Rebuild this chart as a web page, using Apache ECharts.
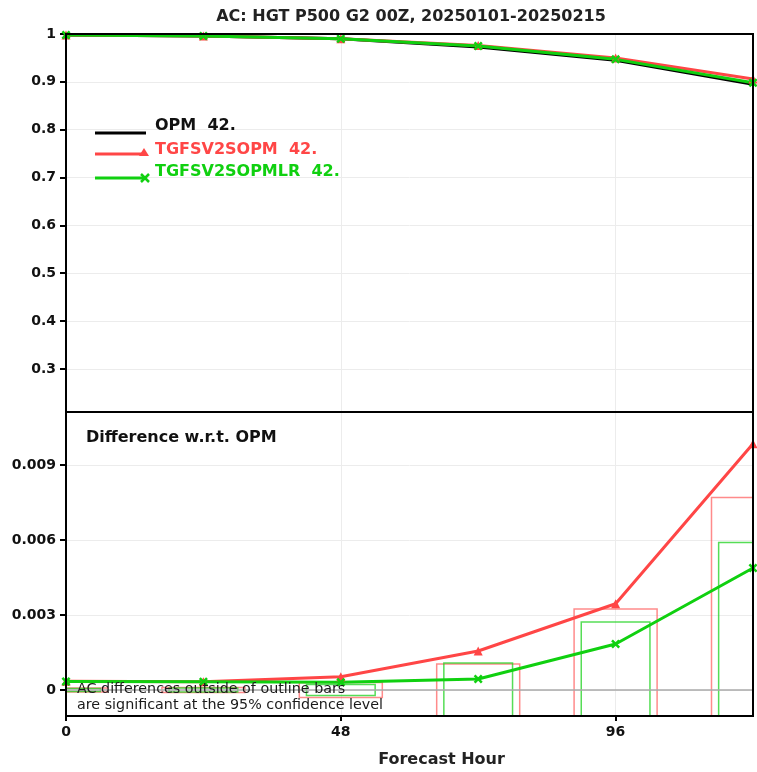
<!DOCTYPE html>
<html>
<head>
<meta charset="utf-8">
<script src="https://cdn.jsdelivr.net/npm/echarts@6/dist/echarts.min.js"></script>
<style>
  html, body { margin: 0; padding: 0; background: #fff; }
  #chart { width: 757px; height: 772px; }
</style>
</head>
<body>
<div id="chart"></div>
<script>
// forecast hours
const hours = [0, 24, 48, 72, 96, 120];

// anomaly correlation, top panel
const acOPM = [0.998, 0.996, 0.990, 0.973, 0.945, 0.895];
const acTGFS = [0.998, 0.996, 0.990, 0.976, 0.950, 0.906];
const acTGFSLR = [0.998, 0.996, 0.990, 0.975, 0.947, 0.898];

// difference w.r.t. OPM, bottom panel
const diffTGFS = [0.00035, 0.00033, 0.00053, 0.00156, 0.00345, 0.00985];
const diffTGFSLR = [0.00034, 0.00033, 0.00031, 0.00044, 0.00184, 0.00488];

// significance bar half heights (95% level)
const sigTGFS = [0.00008, 0.0001, 0.0003, 0.00104, 0.00324, 0.0077];
const sigTGFSLR = [0.00006, 0.00008, 0.00022, 0.00108, 0.00272, 0.0059];

const legendNames = ['OPM  42.', 'TGFSV2SOPM  42.', 'TGFSV2SOPMLR  42.'];

const FONT = 'DejaVu Sans';
const RED = '#ff4646';
const GREEN = '#10d010';
const CROSS = 'path://M0,2 L2,0 L5,3 L8,0 L10,2 L7,5 L10,8 L8,10 L5,7 L2,10 L0,8 L3,5 Z';

// panel boxes (pixels)
const PLOT_L = 66, PLOT_W = 687;
const TOP_Y = 34, TOP_H = 378;
const BOT_Y = 412, BOT_H = 304;

const chart = echarts.init(document.getElementById('chart'));

function pairs(ys) {
  return hours.map((h, i) => [h, ys[i]]);
}

function boxRenderer(halfHours, color) {
  return function (params, api) {
    const x = api.value(0);
    const h = api.value(1);
    const p1 = api.coord([x - halfHours, h]);
    const p2 = api.coord([x + halfHours, -h]);
    const cs = params.coordSys;
    const shape = echarts.graphic.clipRectByRect(
      { x: p1[0], y: p1[1], width: p2[0] - p1[0], height: p2[1] - p1[1] },
      { x: cs.x, y: cs.y, width: cs.width, height: cs.height }
    );
    if (!shape) return;
    return {
      type: 'rect',
      shape,
      style: { fill: 'none', stroke: color, lineWidth: 1.5 }
    };
  };
}

const splitStyle = { lineStyle: { color: '#ececec', width: 1 } };
const labelStyle = { fontFamily: FONT, fontWeight: 'bold', fontSize: 14, color: '#111' };

chart.setOption({
  animation: false,
  title: {
    text: 'AC: HGT P500 G2 00Z, 20250101-20250215',
    left: 406,
    top: 4,
    textAlign: 'center',
    textStyle: { fontFamily: FONT, fontWeight: 'bold', fontSize: 16, color: '#222' }
  },
  grid: [
    { left: PLOT_L, width: PLOT_W, top: TOP_Y, height: TOP_H },
    { left: PLOT_L, width: PLOT_W, top: BOT_Y, height: BOT_H }
  ],
  xAxis: [
    {
      type: 'value', gridIndex: 0, min: 0, max: 120, interval: 48,
      axisLine: { show: false }, axisTick: { show: false }, axisLabel: { show: false },
      splitLine: splitStyle
    },
    {
      type: 'value', gridIndex: 1, min: 0, max: 120, interval: 48,
      axisLine: { show: false, onZero: false },
      axisTick: { length: 5, lineStyle: { color: '#000', width: 2 } },
      axisLabel: Object.assign({ margin: 9, showMaxLabel: false }, labelStyle),
      splitLine: splitStyle,
      name: 'Forecast Hour',
      nameLocation: 'middle',
      nameGap: 36,
      nameTextStyle: { fontFamily: FONT, fontWeight: 'bold', fontSize: 16, color: '#222', padding: [0, 0, 0, 64] }
    }
  ],
  yAxis: [
    {
      type: 'value', gridIndex: 0, min: 0.21, max: 1,
      splitNumber: 8, minInterval: 0.1, maxInterval: 0.1,
      axisLine: { show: false },
      axisTick: { length: 6, lineStyle: { color: '#000', width: 2 } },
      axisLabel: Object.assign({ margin: 10, showMinLabel: false }, labelStyle),
      splitLine: splitStyle
    },
    {
      type: 'value', gridIndex: 1, min: -0.00104, max: 0.01112,
      splitNumber: 4, minInterval: 0.003, maxInterval: 0.003,
      axisLine: { show: false },
      axisTick: { length: 6, lineStyle: { color: '#000', width: 2 } },
      axisLabel: Object.assign({ margin: 10, showMinLabel: false, showMaxLabel: false }, labelStyle),
      splitLine: splitStyle
    }
  ],
  series: [
    {
      name: legendNames[0], type: 'line', xAxisIndex: 0, yAxisIndex: 0,
      data: pairs(acOPM), symbol: 'none',
      lineStyle: { color: '#000', width: 3 }
    },
    {
      name: legendNames[1], type: 'line', xAxisIndex: 0, yAxisIndex: 0,
      data: pairs(acTGFS), symbol: 'triangle', symbolSize: 9,
      itemStyle: { color: RED }, lineStyle: { color: RED, width: 3 }
    },
    {
      name: legendNames[2], type: 'line', xAxisIndex: 0, yAxisIndex: 0,
      data: pairs(acTGFSLR), symbol: CROSS, symbolSize: 9,
      itemStyle: { color: GREEN }, lineStyle: { color: GREEN, width: 3 }
    },
    {
      type: 'custom', xAxisIndex: 1, yAxisIndex: 1,
      data: pairs(sigTGFS), renderItem: boxRenderer(7.25, 'rgba(255,90,90,0.7)'),
      encode: { x: 0, y: 1 }, z: 1
    },
    {
      type: 'custom', xAxisIndex: 1, yAxisIndex: 1,
      data: pairs(sigTGFSLR), renderItem: boxRenderer(6, 'rgba(30,210,30,0.75)'),
      encode: { x: 0, y: 1 }, z: 1
    },
    {
      name: 'diff ' + legendNames[1], type: 'line', xAxisIndex: 1, yAxisIndex: 1,
      data: pairs(diffTGFS), symbol: 'triangle', symbolSize: 9,
      itemStyle: { color: RED }, lineStyle: { color: RED, width: 3 },
      markLine: {
        silent: true, symbol: 'none', label: { show: false },
        lineStyle: { color: '#aaa', width: 1.5, type: 'solid' },
        data: [{ yAxis: 0 }]
      }
    },
    {
      name: 'diff ' + legendNames[2], type: 'line', xAxisIndex: 1, yAxisIndex: 1,
      data: pairs(diffTGFSLR), symbol: CROSS, symbolSize: 9,
      itemStyle: { color: GREEN }, lineStyle: { color: GREEN, width: 3 }
    }
  ],
  graphic: [
    // panel frames
    { type: 'rect', z: 100, shape: { x: PLOT_L, y: TOP_Y, width: PLOT_W, height: TOP_H }, style: { fill: 'none', stroke: '#000', lineWidth: 2 } },
    { type: 'rect', z: 100, shape: { x: PLOT_L, y: BOT_Y, width: PLOT_W, height: BOT_H }, style: { fill: 'none', stroke: '#000', lineWidth: 2 } },
    // legend
    { type: 'rect', z: 100, shape: { x: 95, y: 131.5, width: 51, height: 3 }, style: { fill: '#000' } },
    { type: 'rect', z: 100, shape: { x: 95, y: 152.5, width: 49, height: 3 }, style: { fill: RED } },
    { type: 'polygon', z: 100, shape: { points: [[144, 148], [149, 156], [139, 156]] }, style: { fill: RED } },
    { type: 'rect', z: 100, shape: { x: 95, y: 176.5, width: 49, height: 3 }, style: { fill: GREEN } },
    { type: 'line', z: 100, shape: { x1: 141, y1: 174, x2: 149, y2: 182 }, style: { stroke: GREEN, lineWidth: 2.5 } },
    { type: 'line', z: 100, shape: { x1: 149, y1: 174, x2: 141, y2: 182 }, style: { stroke: GREEN, lineWidth: 2.5 } },
    { type: 'text', z: 100, x: 155, y: 126, style: { text: legendNames[0], fill: '#111', font: 'bold 16px ' + FONT, verticalAlign: 'middle' } },
    { type: 'text', z: 100, x: 155, y: 150, style: { text: legendNames[1], fill: RED, font: 'bold 16px ' + FONT, verticalAlign: 'middle' } },
    { type: 'text', z: 100, x: 155, y: 172, style: { text: legendNames[2], fill: GREEN, font: 'bold 16px ' + FONT, verticalAlign: 'middle' } },
    // panel annotations
    { type: 'text', z: 100, x: 86, y: 438, style: { text: 'Difference w.r.t. OPM', fill: '#111', font: 'bold 16px ' + FONT, verticalAlign: 'middle' } },
    {
      type: 'text', x: 77, y: 681, z: 90,
      style: {
        text: 'AC differences outside of outline bars\nare significant at the 95% confidence level',
        fill: '#1a1a1a', font: '14.3px ' + FONT, lineHeight: 16, verticalAlign: 'top'
      }
    }
  ]
});
</script>
</body>
</html>
